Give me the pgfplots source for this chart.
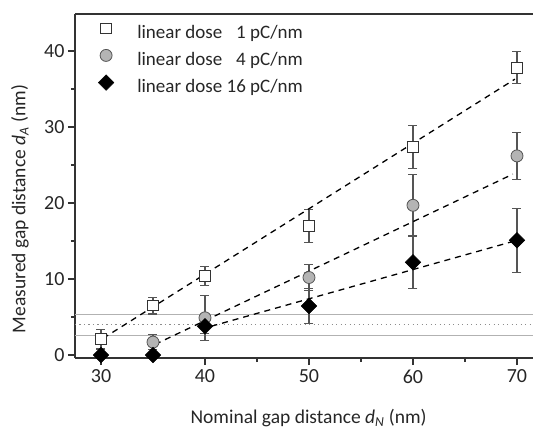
\documentclass[border=0pt]{standalone}
\usepackage{pgfplots}
\pgfplotsset{compat=1.18}
\usepackage{fontspec}
\setmainfont{Carlito}
\definecolor{axc}{HTML}{333333}
\definecolor{errc}{HTML}{555555}
\definecolor{circfill}{HTML}{B4B4B4}
\begin{document}
\begin{tikzpicture}
\begin{axis}[name=ax,
 scale only axis, width=458pt, height=344pt,
 xmin=27.5, xmax=71.54, ymin=-0.39, ymax=44.87,
 axis x line*=bottom, axis y line*=left,
 axis line style={-, line width=1.3pt, color=axc},
 xtick={30,40,50,60,70}, minor xtick={35,45,55,65},
 ytick={0,10,20,30,40}, minor ytick={5,15,25,35},
 tick align=outside, major tick length=7pt, minor tick length=4pt,
 every tick/.style={line width=1.1pt, color=axc},
 /pgf/number format/assume math mode=true,
 ticklabel style={font=\fontsize{20}{24}\selectfont, text=black!85},
 xticklabel style={yshift=-1pt},
 xlabel={Nominal gap distance \textit{d}\textsubscript{\textit{N}} (nm)},
 ylabel={Measured gap distance \textit{d}\textsubscript{\textit{A}} (nm)},
 label style={font=\fontsize{19.5}{23}\selectfont, text=black!85},
 xlabel style={at={(axis description cs:0.51,-0.189)}, anchor=base},
 ylabel style={at={(axis description cs:-0.12,0.433)}, anchor=center},
 legend style={at={(rel axis cs:0.043,0.987)}, anchor=north west, draw=none, fill=none,
   font=\fontsize{19}{22}\selectfont, row sep=5.5pt, text=black!85},
 legend cell align=left,
 legend image code/.code={\path (0pt,-6pt) (37pt,12pt);
   \draw[mark repeat=2,mark phase=2,#1] plot coordinates {(0pt,4.5pt) (8pt,4.5pt) (16pt,4.5pt)};},
 after end axis/.code={\draw[line width=1.3pt, axc] (rel axis cs:0,1) -- (rel axis cs:1,1);},
]
% horizontal reference lines
\addplot[forget plot, gray!60, line width=0.7pt] coordinates {(27.5,5.4) (71.54,5.4)};
\addplot[forget plot, gray!60, line width=0.7pt] coordinates {(27.5,2.6) (71.54,2.6)};
\addplot[forget plot, gray!90, line width=0.8pt, dash pattern=on 1.2pt off 3.3pt] coordinates {(27.5,4.0) (71.54,4.0)};
% squares 1 pC/nm
\addplot[only marks, mark=square*, mark size=5.2pt, mark options={fill=white, draw=axc, line width=0.8pt},
  error bars/.cd, y dir=both, y explicit,
  error bar style={line width=1.1pt, color=errc},
  error mark options={rotate=90, mark size=4.5pt, line width=1.1pt, color=errc}]
 coordinates {(30,2.1) +- (0,1.3) (35,6.5) +- (0,1.1) (40,10.4) +- (0,1.2) (50,17.0) +- (0,2.2) (60,27.4) +- (0,2.85) (70,37.8) +- (0,2.1)};
\addlegendentry{linear dose \phantom{1}1 pC/nm}
% circles 4 pC/nm
\addplot[only marks, mark=*, mark size=6pt, mark options={fill=circfill, draw=errc, line width=0.8pt},
  error bars/.cd, y dir=both, y explicit,
  error bar style={line width=1.1pt, color=errc},
  error mark options={rotate=90, mark size=4.5pt, line width=1.1pt, color=errc}]
 coordinates {(35,1.7) +- (0,1.0) (40,4.9) +- (0,2.95) (50,10.2) +- (0,1.75) (60,19.7) +- (0,4.0) (70,26.2) +- (0,3.1)};
\addlegendentry{linear dose \phantom{1}4 pC/nm}
% diamonds 16 pC/nm
\addplot[only marks, mark=square*, mark size=5.5pt, mark options={rotate=45, fill=black, draw=black, line width=0.5pt},
  error bars/.cd, y dir=both, y explicit,
  error bar style={line width=1.1pt, color=errc},
  error mark options={rotate=90, mark size=4.5pt, line width=1.1pt, color=errc}]
 coordinates {(30,0) +- (0,0) (35,0) +- (0,0) (40,3.8) +- (0,1.0) (50,6.45) +- (0,2.3) (60,12.2) +- (0,3.4) (70,15.1) +- (0,4.2)};
\addlegendentry{linear dose 16 pC/nm}
% dashed fits
\addplot[forget plot, black, line width=1.3pt, dash pattern=on 6pt off 5pt] coordinates {(30.2,2.2) (69.8,36.3)};
\addplot[forget plot, black, line width=1.3pt, dash pattern=on 6pt off 5pt] coordinates {(35.2,1.4) (69.6,23.8)};
\addplot[forget plot, black, line width=1.3pt, dash pattern=on 6pt off 5pt] coordinates {(39.6,3.4) (69.5,14.9)};
\end{axis}
\pgfresetboundingbox
\path ([xshift=-75pt,yshift=-71pt]ax.south west) rectangle ([yshift=14pt]ax.north east);
\end{tikzpicture}
\end{document}
